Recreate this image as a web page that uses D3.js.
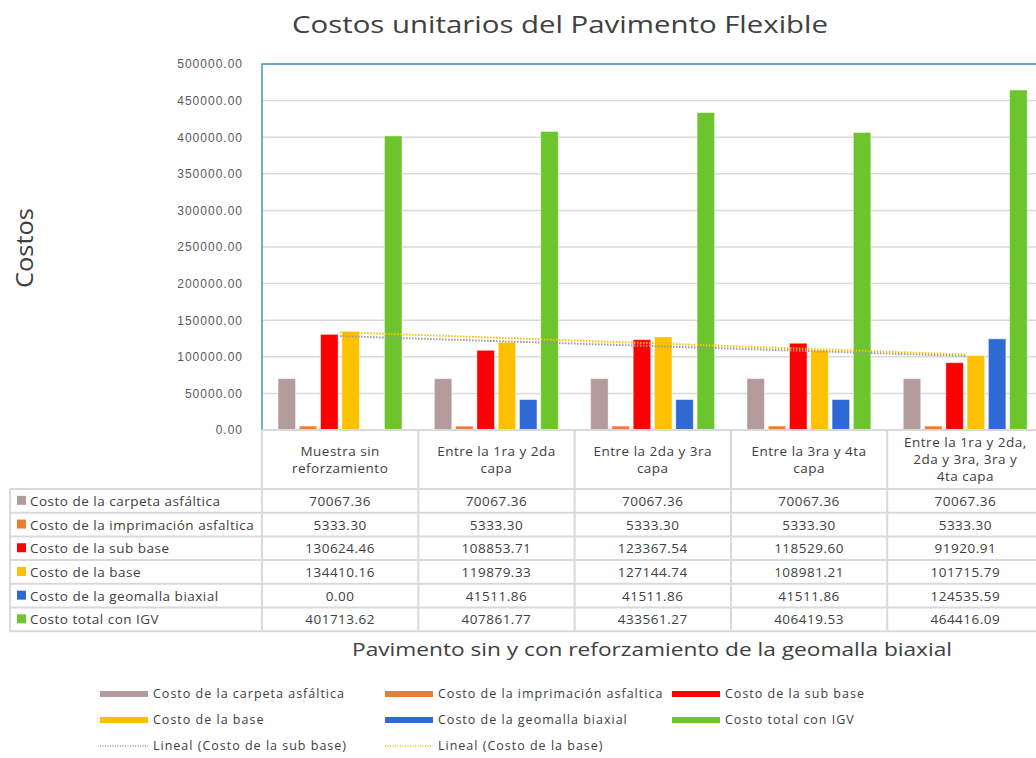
<!DOCTYPE html>
<html>
<head>
<meta charset="utf-8">
<script src="https://cdn.jsdelivr.net/npm/d3@7"></script>
<style>
  body { margin: 0; background: #fff; }
  svg { display: block; font-family: "Open Sans", "Liberation Sans", sans-serif; }
  .tick text { fill: #595959; font-size: 12px; letter-spacing: 1px; }
  .cell { fill: #404040; font-size: 13.5px; letter-spacing: 0.5px; }
  .leg { fill: #404040; font-size: 12.5px; letter-spacing: 1px; }
</style>
</head>
<body>
<svg width="1036" height="758"></svg>
<script>
// data
var categories = [
  ["Muestra sin", "reforzamiento"],
  ["Entre  la 1ra y 2da", "capa"],
  ["Entre  la 2da y 3ra", "capa"],
  ["Entre  la 3ra y 4ta", "capa"],
  ["Entre  la 1ra y 2da,", "2da y 3ra, 3ra y", "4ta capa"]
];
var seriesNames = [
  "Costo de la carpeta asfáltica",
  "Costo de la imprimación asfaltica",
  "Costo de la sub base",
  "Costo de la base",
  "Costo de la geomalla biaxial",
  "Costo total con IGV"
];
var seriesColors = ["#b49b9b", "#ed7d31", "#ff0000", "#ffc000", "#2e69d6", "#6cc52d"];
var carpeta = [70067.36, 70067.36, 70067.36, 70067.36, 70067.36];
var imprimacion = [5333.30, 5333.30, 5333.30, 5333.30, 5333.30];
var subBase = [130624.46, 108853.71, 123367.54, 118529.60, 91920.91];
var base = [134410.16, 119879.33, 127144.74, 108981.21, 101715.79];
var geomalla = [0.00, 41511.86, 41511.86, 41511.86, 124535.59];
var total = [401713.62, 407861.77, 433561.27, 406419.53, 464416.09];
var yTicks = [0, 50000, 100000, 150000, 200000, 250000, 300000, 350000, 400000, 450000, 500000];

var seriesValues = [carpeta, imprimacion, subBase, base, geomalla, total];

var svg = d3.select("svg");
var fmt = d3.format(".2f");

var plotLeft = 262, plotRight = 1043.5, plotTop = 64, plotBottom = 430;

var x = d3.scaleBand()
  .domain(d3.range(categories.length))
  .range([plotLeft, plotRight]);

var xInner = d3.scaleBand()
  .domain(d3.range(seriesNames.length))
  .range([15, 141])
  .paddingInner(0.18)
  .paddingOuter(0.05);

var y = d3.scaleLinear()
  .domain([0, 500000])
  .range([plotBottom, plotTop]);

// title
svg.append("text")
  .attr("x", 292)
  .attr("y", 33)
  .attr("textLength", 536)
  .attr("lengthAdjust", "spacingAndGlyphs")
  .style("font-size", "24px")
  .style("fill", "#404040")
  .text("Costos unitarios del Pavimento Flexible");

// y axis title
svg.append("text")
  .attr("transform", "translate(33,288) rotate(-90)")
  .attr("textLength", 80)
  .attr("lengthAdjust", "spacingAndGlyphs")
  .style("font-size", "24px")
  .style("fill", "#404040")
  .text("Costos");

// gridlines
svg.append("g")
  .selectAll("line")
  .data(yTicks)
  .enter().append("line")
    .attr("x1", plotLeft)
    .attr("x2", plotRight)
    .attr("y1", function(d) { return y(d); })
    .attr("y2", function(d) { return y(d); })
    .attr("stroke", "#d9d9d9")
    .attr("stroke-width", 1.5);

// y axis labels
var yAxis = svg.append("g")
  .attr("transform", "translate(" + (plotLeft - 16) + ",0)")
  .call(d3.axisLeft(y).tickValues(yTicks).tickFormat(fmt).tickSize(0));
yAxis.select(".domain").remove();

// bars
var groups = svg.append("g")
  .selectAll("g")
  .data(seriesValues)
  .enter().append("g")
    .attr("fill", function(d, i) { return seriesColors[i]; });

groups.selectAll("rect")
  .data(function(d, i) { return d.map(function(v, j) { return { s: i, c: j, v: v }; }); })
  .enter().append("rect")
    .attr("x", function(d) { return x(d.c) + xInner(d.s); })
    .attr("width", xInner.bandwidth())
    .attr("y", function(d) { return y(d.v); })
    .attr("height", function(d) { return plotBottom - y(d.v); })
    .attr("stroke", "#ffffff")
    .attr("stroke-opacity", 0.5)
    .attr("stroke-width", 0.8);

// linear trendlines
function trend(vals) {
  var n = vals.length, xs = d3.range(1, n + 1);
  var mx = d3.mean(xs), my = d3.mean(vals);
  var num = d3.sum(xs, function(xv, i) { return (xv - mx) * (vals[i] - my); });
  var den = d3.sum(xs, function(xv) { return (xv - mx) * (xv - mx); });
  var b = num / den, a = my - b * mx;
  return [[0, a + b * 1], [n - 1, a + b * n]];
}
var trends = [
  { pts: trend(subBase), color: "#9a9a9a" },
  { pts: trend(base), color: "#ffc000" }
];
var line = d3.line()
  .x(function(d) { return x(d[0]) + x.bandwidth() / 2; })
  .y(function(d) { return y(d[1]); });
svg.append("g")
  .selectAll("path")
  .data(trends)
  .enter().append("path")
    .attr("d", function(d) { return line(d.pts); })
    .attr("fill", "none")
    .attr("stroke", function(d) { return d.color; })
    .attr("stroke-width", 2)
    .attr("stroke-dasharray", "1.5,1.5");

// plot border (blue)
svg.append("path")
  .attr("d", "M" + plotLeft + "," + plotBottom + "V" + plotTop + "H" + plotRight)
  .attr("fill", "none")
  .attr("stroke", "#4a90d9")
  .attr("stroke-width", 1.5);

// data table
var headerBottom = 489, rowH = 23.7;
var tableBottom = headerBottom + rowH * seriesNames.length;
var tbl = svg.append("g");

var vlines = d3.range(categories.length + 1).map(function(i) {
  return i < categories.length ? x(i) : plotRight;
});
tbl.selectAll(".vl")
  .data(vlines)
  .enter().append("line")
    .attr("x1", function(d) { return d; })
    .attr("x2", function(d) { return d; })
    .attr("y1", plotBottom)
    .attr("y2", tableBottom)
    .attr("stroke", "#d9d9d9")
    .attr("stroke-width", 2);
tbl.append("line")
  .attr("x1", 10).attr("x2", 10)
  .attr("y1", headerBottom).attr("y2", tableBottom)
  .attr("stroke", "#d9d9d9").attr("stroke-width", 2);

tbl.selectAll(".hl")
  .data(d3.range(seriesNames.length + 1))
  .enter().append("line")
    .attr("x1", 10)
    .attr("x2", plotRight)
    .attr("y1", function(i) { return headerBottom + i * rowH; })
    .attr("y2", function(i) { return headerBottom + i * rowH; })
    .attr("stroke", "#d9d9d9")
    .attr("stroke-width", 2);
tbl.append("line")
  .attr("x1", plotLeft).attr("x2", plotRight)
  .attr("y1", plotBottom).attr("y2", plotBottom)
  .attr("stroke", "#d9d9d9").attr("stroke-width", 2);

// category header text
categories.forEach(function(lines, c) {
  var cy = 460 - (lines.length - 1) * 17 / 2;
  var t = tbl.append("text")
    .attr("class", "cell")
    .attr("text-anchor", "middle");
  lines.forEach(function(s, k) {
    t.append("tspan")
      .attr("x", x(c) + x.bandwidth() / 2)
      .attr("y", cy + k * 17 + 4)
      .text(s);
  });
});

// row labels with keys
seriesNames.forEach(function(name, i) {
  var ry = headerBottom + i * rowH + rowH / 2;
  tbl.append("rect")
    .attr("x", 17).attr("y", ry - 5)
    .attr("width", 9).attr("height", 9)
    .attr("fill", seriesColors[i]);
  tbl.append("text")
    .attr("class", "cell")
    .attr("x", 30).attr("y", ry + 5)
    .text(name);
  seriesValues[i].forEach(function(v, c) {
    tbl.append("text")
      .attr("class", "cell")
      .attr("text-anchor", "middle")
      .attr("x", x(c) + x.bandwidth() / 2)
      .attr("y", ry + 5)
      .text(fmt(v));
  });
});

// x axis title
svg.append("text")
  .attr("x", 352)
  .attr("y", 656)
  .attr("textLength", 600)
  .attr("lengthAdjust", "spacingAndGlyphs")
  .style("font-size", "18px")
  .style("fill", "#404040")
  .text("Pavimento sin y con reforzamiento de la geomalla biaxial");

// legend
var legendItems = seriesNames.map(function(n, i) { return { name: n, color: seriesColors[i], kind: "bar" }; })
  .concat([
    { name: "Lineal (Costo de la sub base)", color: "#9a9a9a", kind: "line" },
    { name: "Lineal (Costo de la base)", color: "#ffc000", kind: "line" }
  ]);
var colX = [100, 385, 672], rowY = [694, 720, 746];
var leg = svg.append("g")
  .selectAll("g")
  .data(legendItems)
  .enter().append("g")
    .attr("transform", function(d, i) { return "translate(" + colX[i % 3] + "," + rowY[Math.floor(i / 3)] + ")"; });
leg.filter(function(d) { return d.kind === "bar"; })
  .append("rect")
    .attr("x", 0).attr("y", -3)
    .attr("width", 48).attr("height", 6)
    .attr("fill", function(d) { return d.color; });
leg.filter(function(d) { return d.kind === "line"; })
  .append("line")
    .attr("x1", 0).attr("x2", 48)
    .attr("stroke", function(d) { return d.color; })
    .attr("stroke-width", 1.5)
    .attr("stroke-dasharray", "1,1.5");
leg.append("text")
  .attr("class", "leg")
  .attr("x", 53)
  .attr("y", 4)
  .text(function(d) { return d.name; });
</script>
</body>
</html>
